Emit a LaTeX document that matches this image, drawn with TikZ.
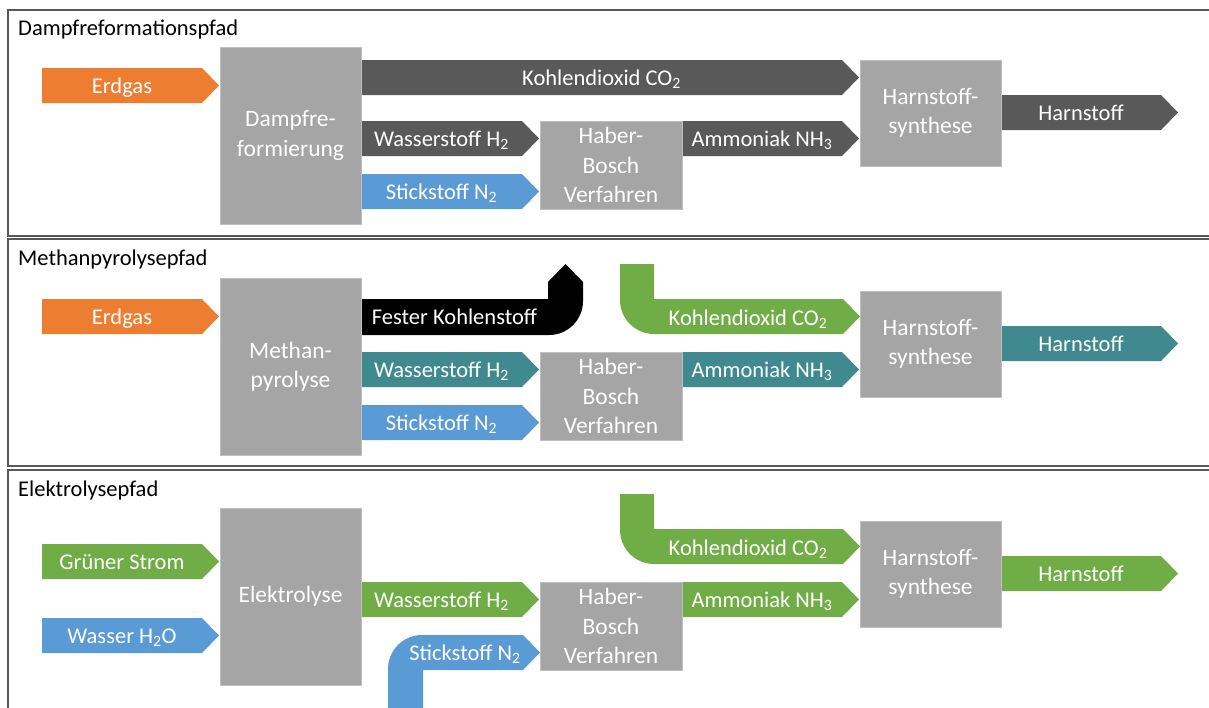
\documentclass[tikz,border=0pt]{standalone}
\usepackage{fontspec}
\setmainfont{Carlito}

\definecolor{orangeerd}{HTML}{ED7D31}
\definecolor{dunkelgrau}{HTML}{595959}
\definecolor{boxgrau}{HTML}{A5A5A5}
\definecolor{blaun}{HTML}{5B9BD5}
\definecolor{gruen}{HTML}{70AD47}
\definecolor{petrol}{HTML}{408A8F}
\definecolor{rahmengrau}{HTML}{595959}

\tikzset{
  prozess/.style={rectangle, fill=boxgrau, draw=boxgrau!70!white, line width=0.6pt,
    text=white, align=center, inner sep=0pt, font=\fontsize{23.5}{29.5}\selectfont},
  pfadtitel/.style={anchor=base west, inner sep=0pt, font=\fontsize{22.5}{26}\selectfont},
  pfeiltext/.style={anchor=base, text=white, inner sep=0pt, font=\fontsize{22.5}{26}\selectfont},
  rahmen/.style={draw=rahmengrau, line width=1.6pt},
}

% block arrow: name, colour, x start, x tip, y top, label
\newcommand{\blockpfeil}[6]{%
  \fill[#2] (#3,#5) -- (#4-17,#5) -- (#4,#5+17.5) -- (#4-17,#5+35) -- (#3,#5+35) -- cycle;
  \node[pfeiltext] (#1) at ({(#3+#4-17)/2},#5+25) {#6};
}

\begin{document}
\begin{tikzpicture}[x=1pt,y=-1pt]
\useasboundingbox (0,0) rectangle (1209,707);

% Dampfreformationspfad
\draw[rahmen] (1230,10) -- (8,10) -- (8,236) -- (1230,236);
\node[pfadtitel] (titel1) at (18,35) {Dampfreformationspfad};
\blockpfeil{erdgas1}{orangeerd}{42}{219}{68}{Erdgas}
\blockpfeil{kohlendioxid1}{dunkelgrau}{361}{859}{60}{Kohlendioxid CO\textsubscript{2}}
\blockpfeil{wasserstoff1}{dunkelgrau}{361}{539}{121}{Wasserstoff H\textsubscript{2}}
\blockpfeil{stickstoff1}{blaun}{361}{539}{174}{Stickstoff N\textsubscript{2}}
\blockpfeil{ammoniak1}{dunkelgrau}{682}{859}{121}{Ammoniak NH\textsubscript{3}}
\blockpfeil{harnstoff1}{dunkelgrau}{1001}{1178}{95}{Harnstoff}
\node[prozess, minimum width=141pt, minimum height=177pt] (dampf) at (290.5,135.5) {Dampfre-\\formierung};
\node[prozess, minimum width=142pt, minimum height=88pt] (haber1) at (611,165) {Haber-\\Bosch\\Verfahren};
\node[prozess, minimum width=141pt, minimum height=106pt] (synthese1) at (930.5,113) {Harnstoff-\\synthese};

% Methanpyrolysepfad
\begin{scope}[yshift=-231pt]
\draw[rahmen] (1230,8) -- (8,8) -- (8,235) -- (1230,235);
\node[pfadtitel] (titel2) at (18,34) {Methanpyrolysepfad};
\blockpfeil{erdgas2}{orangeerd}{42}{219}{68}{Erdgas}
\fill[black] (361,68) -- (548,68) -- (548,51) -- (565.5,33) -- (583,51) -- (583,70)
  .. controls (583,88.8) and (567.8,104) .. (549,104) -- (361,104) -- cycle;
\node[pfeiltext] (kohlenstoff) at (454.5,93) {Fester Kohlenstoff};
\fill[gruen] (620,33) -- (654,33) -- (654,68) -- (843,68) -- (860,85.5) -- (843,103) -- (654,103)
  .. controls (635.2,103) and (620,87.8) .. (620,69) -- cycle;
\node[pfeiltext] (kohlendioxid2) at (748,94) {Kohlendioxid CO\textsubscript{2}};
\blockpfeil{wasserstoff2}{petrol}{361}{539}{121}{Wasserstoff H\textsubscript{2}}
\blockpfeil{stickstoff2}{blaun}{361}{539}{174}{Stickstoff N\textsubscript{2}}
\blockpfeil{ammoniak2}{petrol}{682}{859}{121}{Ammoniak NH\textsubscript{3}}
\blockpfeil{harnstoff2}{petrol}{1001}{1178}{95}{Harnstoff}
\node[prozess, minimum width=141pt, minimum height=177pt] (pyrolyse) at (290.5,135.5) {Methan-\\pyrolyse};
\node[prozess, minimum width=142pt, minimum height=88pt] (haber2) at (611,165) {Haber-\\Bosch\\Verfahren};
\node[prozess, minimum width=141pt, minimum height=106pt] (synthese2) at (930.5,113) {Harnstoff-\\synthese};
\end{scope}

% Elektrolysepfad
\begin{scope}[yshift=-461pt]
\draw[rahmen] (1230,9) -- (8,9) -- (8,260);
\node[pfadtitel] (titel3) at (18,35) {Elektrolysepfad};
\blockpfeil{strom}{gruen}{42}{219}{83}{Grüner Strom}
\blockpfeil{wasser}{blaun}{42}{219}{157}{Wasser H\textsubscript{2}O}
\blockpfeil{wasserstoff3}{gruen}{361}{539}{121}{Wasserstoff H\textsubscript{2}}
\fill[blaun] (388,260) -- (388,208) .. controls (388,189.2) and (403.2,174) .. (422,174)
  -- (523,174) -- (540,191.5) -- (523,209) -- (423,209) -- (423,260) -- cycle;
\node[pfeiltext] (stickstoff3) at (465,199) {Stickstoff N\textsubscript{2}};
\fill[gruen] (620,33) -- (654,33) -- (654,68) -- (843,68) -- (860,85.5) -- (843,103) -- (654,103)
  .. controls (635.2,103) and (620,87.8) .. (620,69) -- cycle;
\node[pfeiltext] (kohlendioxid3) at (748,94) {Kohlendioxid CO\textsubscript{2}};
\blockpfeil{ammoniak3}{gruen}{682}{859}{121}{Ammoniak NH\textsubscript{3}}
\blockpfeil{harnstoff3}{gruen}{1001}{1178}{95}{Harnstoff}
\node[prozess, minimum width=141pt, minimum height=177pt] (elektrolyse) at (290.5,135.5) {Elektrolyse};
\node[prozess, minimum width=142pt, minimum height=88pt] (haber3) at (611,165) {Haber-\\Bosch\\Verfahren};
\node[prozess, minimum width=141pt, minimum height=106pt] (synthese3) at (930.5,113) {Harnstoff-\\synthese};
\end{scope}
\end{tikzpicture}
\end{document}
